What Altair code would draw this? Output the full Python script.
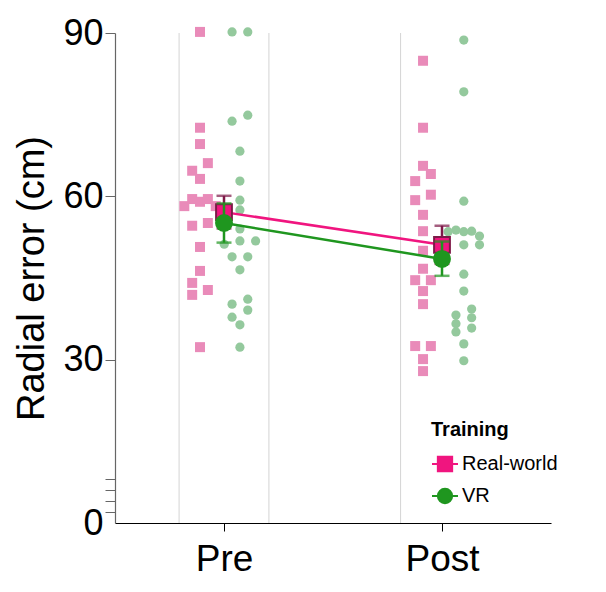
import altair as alt
import pandas as pd

# ---------------- data ----------------
times = ["Pre", "Post"]
time_pos = [1, 2]
groups = ["Real-world", "VR"]

pre_rw_values = [90.2, 72.6, 69.6, 66.1, 64.7, 63.2, 59.5, 58.2, 59.0, 59.5, 58.2,
                 54.6, 55.1, 50.7, 46.3, 44.1, 41.9, 42.8, 32.3]
pre_rw_cols = [0, 0, 0, 1, -1, 0, -1, -2, 0, 1, 2, -1, 1, 0, 0, -1, -1, 1, 0]

pre_vr_values = [90.2, 90.2, 74.9, 73.8, 68.3, 62.8, 59.3, 57.5, 54.0, 51.8, 51.8,
                 51.2, 48.9, 48.9, 46.5, 41.1, 40.2, 39.1, 37.8, 36.4, 32.3]
pre_vr_cols = [-1, 1, 1, -1, 0, 0, 0, 0, 0, 0, 2, -2, -1, 1, 0, 1, -1, 1, -1, 0, 0]

post_rw_values = [84.9, 72.6, 65.6, 64.1, 62.8, 60.3, 59.3, 56.6, 53.6, 50.0, 46.7,
                  44.6, 44.6, 42.6, 40.2, 32.5, 32.5, 30.1, 27.9]
post_rw_cols = [0, 0, 0, 1, -1, 1, -1, 0, 0, 0, 0, -1, 1, 0, 0, -1, 1, 0, 0]

post_vr_values = [88.7, 79.2, 59.1, 53.5, 53.8, 53.5, 53.6, 52.7, 51.1, 51.1, 45.7,
                  42.6, 39.3, 38.2, 37.7, 36.6, 35.8, 35.1, 32.9, 29.8]
post_vr_cols = [0, 0, 0, -2, -1, 0, 1, 2, 0, 2, 0, 0, 1, -1, 1, -1, 1, -1, 0, 0]

# cluster centre offsets (x units) and column step for the jittered dots
cluster_offset = {("Pre", "Real-world"): -0.11, ("Pre", "VR"): 0.073,
                  ("Post", "Real-world"): -0.087, ("Post", "VR"): 0.10}
col_step = 0.036

mean_values = {("Pre", "Real-world"): 57.1, ("Pre", "VR"): 55.1,
               ("Post", "Real-world"): 51.1, ("Post", "VR"): 48.5}
err_low = {("Pre", "Real-world"): 54.1, ("Pre", "VR"): 51.5,
           ("Post", "Real-world"): 47.6, ("Post", "VR"): 45.4}
err_high = {("Pre", "Real-world"): 60.1, ("Pre", "VR"): 58.7,
            ("Post", "Real-world"): 54.6, ("Post", "VR"): 51.7}

band_edges = [0.794, 1.206, 1.81]

# ---------------- tables ----------------
rows = []
series = {("Pre", "Real-world"): (pre_rw_values, pre_rw_cols),
          ("Pre", "VR"): (pre_vr_values, pre_vr_cols),
          ("Post", "Real-world"): (post_rw_values, post_rw_cols),
          ("Post", "VR"): (post_vr_values, post_vr_cols)}
pos_of = dict(zip(times, time_pos))
for (t, g), (vals, cols) in series.items():
    for v, c in zip(vals, cols):
        rows.append({"time": t, "Training": g, "value": v,
                     "x": pos_of[t] + cluster_offset[(t, g)] + c * col_step})
pts = pd.DataFrame(rows)

mrows = []
for t in times:
    for g in groups:
        mrows.append({"time": t, "Training": g, "x": pos_of[t],
                      "mean": mean_values[(t, g)], "lo": err_low[(t, g)],
                      "hi": err_high[(t, g)]})
means = pd.DataFrame(mrows)
bands = pd.DataFrame({"b": band_edges})

PINK_LIGHT = "#E98BB9"
GREEN_LIGHT = "#94C99D"
PINK = "#F0157F"
PINK_DARK = "#7E1A48"
GREEN = "#1F961F"

xscale = alt.Scale(domain=[0.5, 2.5], nice=False, zero=False)
yscale = alt.Scale(domain=[0, 90], nice=False)

xaxis = alt.Axis(values=time_pos, labelExpr="datum.value == 1 ? 'Pre' : 'Post'",
                 title=None, grid=False, tickSize=8, tickColor="#000",
                 domainColor="#000", domainWidth=1.2, labelFontSize=37,
                 labelColor="#000", labelPadding=10, labelFont="Liberation Sans")
yaxis = alt.Axis(values=[0, 2, 4, 6, 8, 30, 60, 90],
                 labelExpr="datum.value % 30 == 0 ? datum.label : ''",
                 title="Radial error (cm)", grid=False, tickSize=10,
                 tickColor="#666", domainColor="#666", domainWidth=1.2,
                 tickOpacity={"condition": {"test": "datum.value === 0", "value": 0}, "value": 1},
                 labelFontSize=36, labelColor="#000", labelPadding=2,
                 labelFont="Liberation Sans", titleFont="Liberation Sans",
                 titleFontSize=38, titleFontWeight="normal", titleColor="#000",
                 titlePadding=11)

X = alt.X("x:Q", scale=xscale, axis=xaxis)

grid = alt.Chart(bands).mark_rule(color="#d4d4d4", strokeWidth=1).encode(
    x=alt.X("b:Q", scale=xscale, axis=xaxis))

rw_pts = alt.Chart(pts).transform_filter(alt.datum.Training == "Real-world").mark_square(
    size=100, color=PINK_LIGHT, opacity=1).encode(
    x=X, y=alt.Y("value:Q", scale=yscale, axis=yaxis))
vr_pts = alt.Chart(pts).transform_filter(alt.datum.Training == "VR").mark_circle(
    size=85, color=GREEN_LIGHT, opacity=1).encode(
    x=X, y=alt.Y("value:Q", scale=yscale, axis=yaxis))

def sub(g):
    return alt.Chart(means).transform_filter(alt.datum.Training == g)

rw_line = sub("Real-world").mark_line(color=PINK, strokeWidth=2.5).encode(
    x=X, y=alt.Y("mean:Q", scale=yscale, axis=yaxis))
vr_line = sub("VR").mark_line(color=GREEN, strokeWidth=2.5).encode(
    x=X, y=alt.Y("mean:Q", scale=yscale, axis=yaxis))

def errbar(g, color):
    base = sub(g)
    r = base.mark_rule(color=color, strokeWidth=2.5).encode(
        x=X, y=alt.Y("lo:Q", scale=yscale, axis=yaxis), y2="hi:Q")
    t1 = base.mark_tick(color=color, thickness=2.5, size=15, orient="horizontal").encode(
        x=X, y=alt.Y("lo:Q", scale=yscale, axis=yaxis))
    t2 = base.mark_tick(color=color, thickness=2.5, size=15, orient="horizontal").encode(
        x=X, y=alt.Y("hi:Q", scale=yscale, axis=yaxis))
    return r + t1 + t2

rw_err = errbar("Real-world", PINK_DARK)
vr_err = errbar("VR", GREEN)

rw_mean = sub("Real-world").mark_square(size=250, fill=PINK, stroke=PINK_DARK,
                                        strokeWidth=2, opacity=1).encode(
    x=X, y=alt.Y("mean:Q", scale=yscale, axis=yaxis))
vr_mean = sub("VR").mark_circle(size=320, color=GREEN, opacity=1).encode(
    x=X, y=alt.Y("mean:Q", scale=yscale, axis=yaxis))

sq_path = "M-1,0H-0.55M0.55,0H1M-0.55,-0.55H0.55V0.55H-0.55Z"
ci_path = "M-1,0H-0.55M0.55,0H1M-0.55,0A0.55,0.55,0,1,0,0.55,0A0.55,0.55,0,1,0,-0.55,0Z"

legend = alt.Legend(title="Training", orient="none", legendX=306, legendY=377,
                    titleFontSize=20, titleFontWeight="bold", titleColor="#000",
                    titleFont="Liberation Sans", labelFont="Liberation Sans",
                    labelFontSize=20, labelColor="#000", symbolSize=676,
                    symbolStrokeWidth=2, symbolOpacity=1, rowPadding=6,
                    titlePadding=10, labelOffset=3, fillColor="white", padding=10)

leg = alt.Chart(means).transform_filter(alt.datum.time == "Pre").mark_point(
    filled=True, opacity=0).encode(
    x=X, y=alt.Y("mean:Q", scale=yscale, axis=yaxis),
    fill=alt.Fill("Training:N", scale=alt.Scale(domain=groups, range=[PINK, GREEN]), legend=legend),
    stroke=alt.Stroke("Training:N", scale=alt.Scale(domain=groups, range=[PINK, GREEN]), legend=legend),
    shape=alt.Shape("Training:N", scale=alt.Scale(domain=groups, range=[sq_path, ci_path]), legend=legend),
)

chart = alt.layer(grid, rw_pts, vr_pts, rw_line, vr_line, rw_err, rw_mean,
                  vr_err, vr_mean, leg).properties(
    width=436, height=490,
    padding={"left": 5, "top": 7, "right": 5, "bottom": 5},
).configure(
    font="Liberation Sans",
    view=alt.ViewConfig(strokeWidth=0, strokeOpacity=0),
)

chart.save("out.html", embed_options={"renderer": "svg", "actions": False})
